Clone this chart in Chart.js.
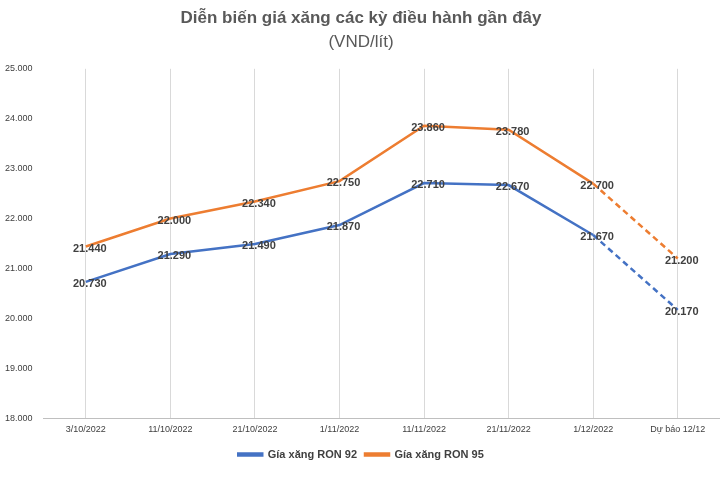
<!DOCTYPE html>
<html><head><meta charset="utf-8">
<script src="https://cdn.jsdelivr.net/npm/chart.js@4/dist/chart.umd.min.js"></script>
<style>body{margin:0;background:#fff}#w{width:720px;height:478px}</style></head>
<body><div id="w"><canvas id="c"></canvas></div>
<script>
const categories=["3/10/2022","11/10/2022","21/10/2022","1/11/2022","11/11/2022","21/11/2022","1/12/2022","Dự báo 12/12"];
const ron92=[20730,21290,21490,21870,22710,22670,21670,20170];
const ron95=[21440,22000,22340,22750,23860,23780,22700,21200];
const fmt=v=>v.toLocaleString('de-DE');
const labelPlugin={id:'lbl',afterDatasetsDraw(ch){const c=ch.ctx;c.save();c.font='bold 11px "Liberation Sans"';c.fillStyle='#404040';c.textAlign='center';c.textBaseline='middle';
ch.data.datasets.forEach((d,i)=>{ch.getDatasetMeta(i).data.forEach((p,j)=>{c.fillText(fmt(d.data[j]),p.x+4,p.y+2);});});c.restore();}};
const dash={borderDash:ctx=>ctx.p1DataIndex===7?[6,4]:undefined};
new Chart(document.getElementById('c'),{type:'line',
data:{labels:categories,datasets:[
{label:'Gía xăng RON 92',data:ron92,borderColor:'#4472c4',backgroundColor:'#4472c4',borderWidth:2.5,pointRadius:0,segment:dash},
{label:'Gía xăng RON 95',data:ron95,borderColor:'#ed7d31',backgroundColor:'#ed7d31',borderWidth:2.5,pointRadius:0,segment:dash}]},
options:{responsive:true,maintainAspectRatio:false,animation:false,
layout:{padding:{left:2,right:0,top:0,bottom:8}},
plugins:{title:{display:true,text:'Diễn biến giá xăng các kỳ điều hành gần đây',color:'#595959',font:{family:'Liberation Sans',size:17,weight:'bold'},padding:{top:8,bottom:4}},
subtitle:{display:true,text:'(VND/lít)',color:'#595959',font:{family:'Liberation Sans',size:17},padding:{bottom:16}},
legend:{position:'bottom',labels:{color:'#404040',font:{family:'Liberation Sans',size:11,weight:'bold'},boxWidth:24,boxHeight:2,padding:8}},tooltip:{enabled:false}},
scales:{x:{offset:true,grid:{display:true,offset:false,color:'#d9d9d9',drawTicks:false},border:{color:'#bfbfbf'},ticks:{color:'#404040',font:{family:'Liberation Sans',size:9},padding:6}},
y:{min:18000,max:25000,ticks:{stepSize:1000,callback:v=>fmt(v),color:'#404040',font:{family:'Liberation Sans',size:9}},grid:{display:false},border:{display:false}}}},
plugins:[labelPlugin]});
</script></body></html>
